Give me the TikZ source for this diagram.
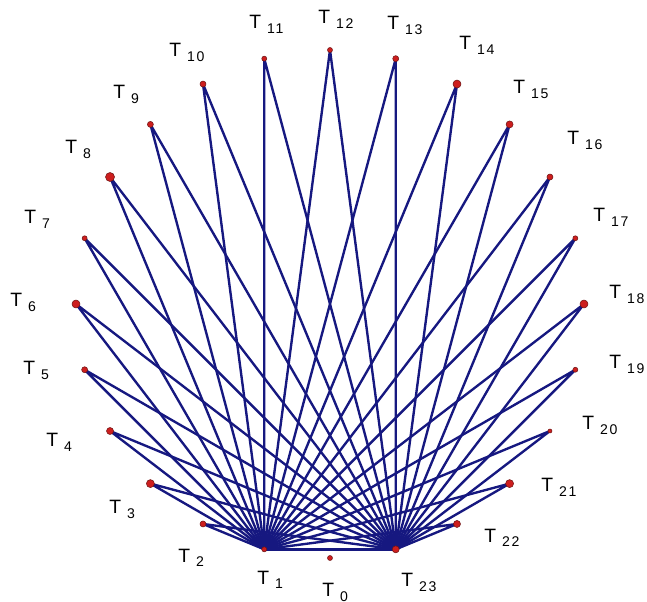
\documentclass[tikz,border=0pt]{standalone}
\usepackage{fontspec}
\setmainfont{Liberation Sans}
\usepackage{tikz}
\usetikzlibrary{arrows.meta}
\definecolor{lineblue}{RGB}{22,24,128}
\definecolor{dotred}{RGB}{205,30,30}
\definecolor{dotedge}{RGB}{110,20,20}
\tikzset{
  vdot/.style={circle, draw=dotedge, fill=dotred, line width=0.3pt,
               minimum size=#1, inner sep=0pt},
  edge/.style={draw=lineblue, line width=1.35pt},
  vlab/.style={anchor=base west, inner sep=0pt},
}
\newcommand{\tlab}[1]{{\fontsize{11}{11}\selectfont T}\hspace{3.4pt}%
  \raisebox{-2.3pt}{\fontsize{8}{8}\selectfont\addfontfeatures{LetterSpace=12}#1}}

\begin{document}
\begin{tikzpicture}[x=0.02cm, y=0.02cm]
  \useasboundingbox (-330,-298) rectangle (317,304);

  % ─── vertices on the circle ────────────────────────────────────────
  \foreach \k in {0,...,23}
    \coordinate (v\k) at ({-90-15*\k}:254);

  % ─── edges from T1 and T23 ─────────────────────────────────────────
  \foreach \k in {2,...,22}
    \draw[edge] (v1) -- (v\k) (v23) -- (v\k);
  \draw[edge] (v1) -- (v23);

  % dots on top
  \foreach \k/\s in {0/5,1/5,2/6,3/8,4/7,5/6,6/8,7/5,8/9,9/6,10/6,11/5,
                     12/5,13/6,14/8,15/7,16/6,17/5,18/8,19/5,20/4,21/8,22/7,23/7}
    \node[vdot=\s*0.02cm] (d\k) at (v\k) {};

  % ─── labels ────────────────────────────────────────────────────────
  \foreach \k/\x/\y in {0/-8/-293, 1/-73/-280, 2/-152/-258, 3/-221/-210,
                        4/-284/-143, 5/-307/-71, 6/-320/-3, 7/-306/80,
                        8/-265/150, 9/-217/205, 10/-161/247, 11/-81/275,
                        12/-12/280, 13/57/274, 14/129/254, 15/183/210,
                        16/237/159, 17/263/82, 18/279/5, 19/279/-65,
                        20/252/-126, 21/211/-188, 22/154/-238, 23/71/-283}
    \node[vlab] (t\k) at (\x,\y) {\tlab{\k}};

\end{tikzpicture}
\end{document}
